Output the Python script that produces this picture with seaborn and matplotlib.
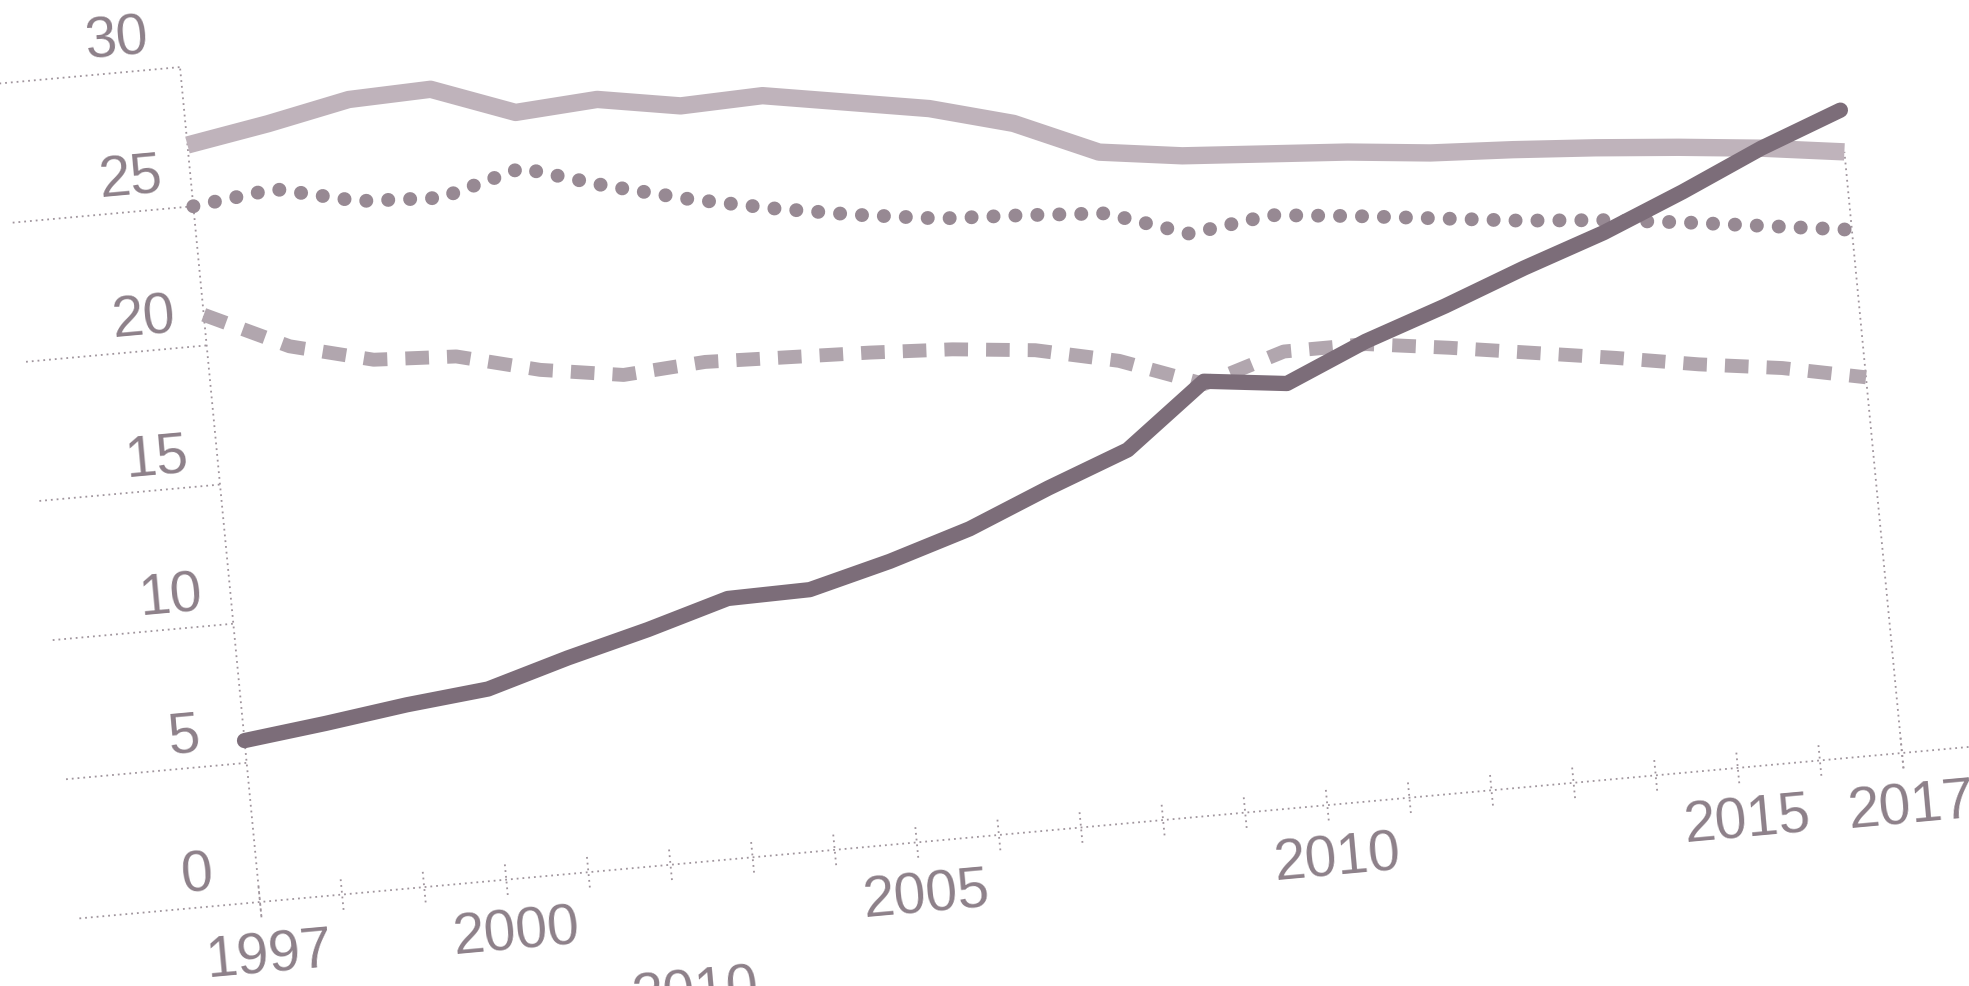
import numpy as np
import pandas as pd
import matplotlib
matplotlib.use("Agg")
import matplotlib.pyplot as plt
import seaborn as sns
from matplotlib import font_manager as fm
from matplotlib.transforms import Affine2D
import mpl_toolkits.axisartist.floating_axes as floating_axes
from mpl_toolkits.axisartist.grid_finder import FixedLocator

years = list(range(1997, 2018))
dark = [5.8, 6.15, 6.55, 6.85, 7.7, 8.45, 9.3, 9.35, 10.1, 11.0, 12.2,
        13.3, 15.5, 15.15, 16.4, 17.4, 18.5, 19.5, 20.7, 22.0, 23.1]
light = [27.2, 27.7, 28.3, 28.4, 27.3, 27.5, 27.0, 27.1, 26.6, 26.1, 25.3,
         24.0, 23.6, 23.4, 23.2, 22.9, 22.75, 22.55, 22.3, 22.0, 21.6]
dotted = [25.0, 25.35, 24.65, 24.5, 25.3, 24.4, 23.65, 23.05, 22.55, 22.15, 22.0,
          21.8, 20.8, 21.2, 20.9, 20.55, 20.2, 19.95, 19.6, 19.2, 18.8]
dashed = [21.1, 19.7, 18.95, 18.8, 18.05, 17.6, 17.8, 17.7, 17.6, 17.45, 17.15,
          16.5, 15.4, 16.3, 16.3, 15.9, 15.45, 15.0, 14.5, 14.1, 13.5]

y_ticks = [0, 5, 10, 15, 20, 25, 30]
x_labels = [1997, 2000, 2005, 2010, 2015, 2017]

sns.set_theme(style="white")
installed = {f.name for f in fm.fontManager.ttflist}
if "Liberation Sans Narrow" in installed:
    plt.rcParams['font.family'] = ['Liberation Sans Narrow', 'DejaVu Sans']
    fsize = 50
else:
    plt.rcParams['font.family'] = ['Liberation Sans', 'DejaVu Sans']
    fsize = 41

ink = "#8d8089"
grid_c = "#a0959d"

W, H = 1969, 986
fig = plt.figure(figsize=(W / 100, H / 100), dpi=100)
fig.patch.set_facecolor("white")

# page was shot at an angle -> (year, value) goes through a tilted frame (pixels)
tilt = Affine2D(np.array([[82.1, -2.667, 260 - 82.1 * 1997],
                          [7.45, 27.83, 84 - 7.45 * 1997],
                          [0.0, 0.0, 1.0]]))
helper = floating_axes.GridHelperCurveLinear(
    tilt, extremes=(1997, 2017, 0, 30),
    grid_locator1=FixedLocator(x_labels), grid_locator2=FixedLocator(y_ticks))
ax = fig.add_axes([0, 0, 1, 1], axes_class=floating_axes.FloatingAxes,
                  grid_helper=helper)
ax.set_xlim(0, W)
ax.set_ylim(0, H)
ax.axis[:].set_visible(False)
ax.patch.set_visible(False)
aux = ax.get_aux_axes(tilt)

dots = dict(color=grid_c, lw=1.3, ls=(0, (1, 2.2)))
# y axis, y tick rules, baseline, year ticks, 2017 rule
aux.plot([1997, 1997], [-0.5, 30], **dots)
for v in y_ticks[1:]:
    aux.plot([1994.8, 1997], [v, v], **dots)
aux.plot([1994.8, 2018.8], [0, 0], **dots)
for yr in years:
    aux.plot([yr, yr], [-0.55, 0.55], **dots)
aux.plot([2017, 2017], [-0.55, 21.6], **dots)

df = pd.DataFrame({"year": years, "dark": dark, "light": light,
                   "dotted": dotted, "dashed": dashed})

sns.lineplot(data=df, x="year", y="light", ax=aux, color="#bfb3bb",
             lw=12.5, solid_capstyle="butt")
sns.lineplot(data=df, x="year", y="dotted", ax=aux, color="#978993",
             lw=10, linestyle=(0, (0.01, 1.57)), dash_capstyle="round")
sns.lineplot(data=df, x="year", y="dashed", ax=aux, color="#b1a6ae",
             lw=10, linestyle=(0, (1.7, 1.3)), dash_capstyle="butt")
sns.lineplot(data=df, x="year", y="dark", ax=aux, color="#7c6d79",
             lw=11, solid_capstyle="round")

txt = dict(color=ink, fontsize=fsize, rotation=5.2, rotation_mode="anchor")
for v in y_ticks:
    aux.text(1997 - 0.73, v + 0.6, str(v), ha="center", va="baseline", **txt)
for yr in x_labels:
    aux.text(yr + 0.05, -1.0, str(yr), ha="center", va="top", **txt)
aux.text(2002.15, -3.7, "2010", ha="center", va="top", **txt)

fig.savefig("out.png", dpi=100, facecolor="white")
